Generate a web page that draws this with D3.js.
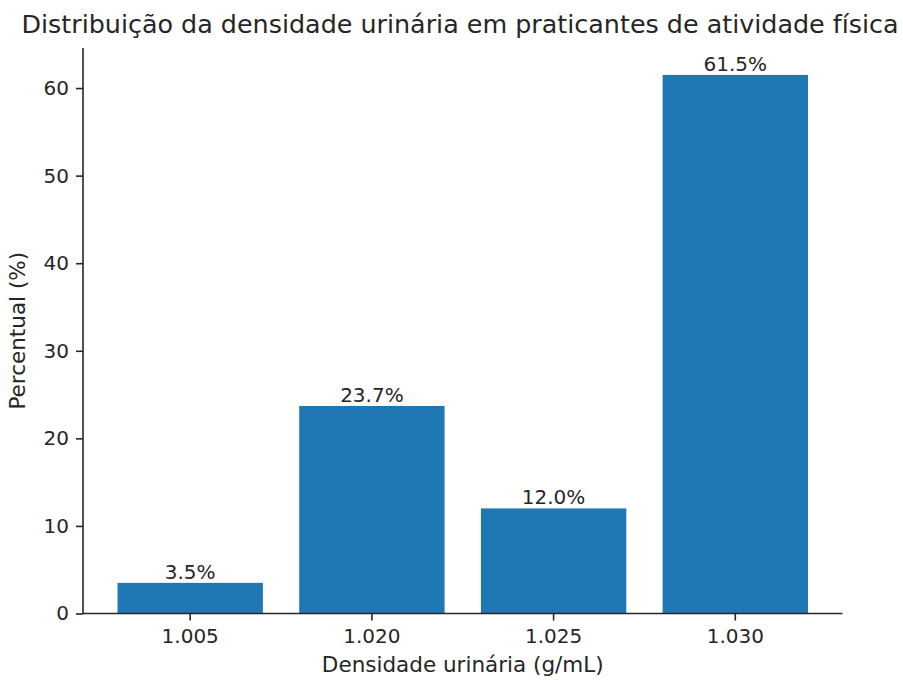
<!DOCTYPE html>
<html>
<head>
<meta charset="utf-8">
<script src="https://cdn.jsdelivr.net/npm/d3@7"></script>
<style>
	body { margin: 0; background: #fff; }
	text { font-family: "DejaVu Sans", sans-serif; fill: #262626; }
	.axis path, .axis line { stroke: #262626; stroke-width: 1.6; }
</style>
</head>
<body>
<svg id="chart" width="903" height="680"></svg>
<script>
// data
var categories = ['1.005', '1.020', '1.025', '1.030'];
var percents = [3.5, 23.7, 12.0, 61.5];
var yTicks = [0, 10, 20, 30, 40, 50, 60];

var svg = d3.select('#chart'),
	plotLeft = 83, plotRight = 842.5, plotTop = 48, plotBottom = 613.5;

var x = d3.scaleBand()
	.domain(categories)
	.range([plotLeft, plotRight])
	.paddingInner(0.2)
	.paddingOuter(0.19);

var y = d3.scaleLinear()
	.domain([0, d3.max(percents) * 1.05])
	.range([plotBottom, plotTop]);

// bars
svg.append('g').selectAll('rect')
	.data(percents)
	.enter()
	.append('rect')
	.attr('x', function (d, i) { return x(categories[i]); })
	.attr('y', function (d) { return y(d); })
	.attr('width', x.bandwidth())
	.attr('height', function (d) { return plotBottom - y(d); })
	.attr('fill', '#1f77b4')
;

// value labels
svg.append('g').selectAll('text')
	.data(percents)
	.enter()
	.append('text')
	.attr('x', function (d, i) { return x(categories[i]) + x.bandwidth() / 2; })
	.attr('y', function (d) { return y(d) - 4; })
	.attr('text-anchor', 'middle')
	.style('font-size', '20px')
	.text(function (d) { return d.toFixed(1) + '%'; })
;

// axes
var xAxis = svg.append('g')
	.attr('class', 'axis')
	.attr('transform', 'translate(0,' + plotBottom + ')')
	.call(d3.axisBottom(x).tickSizeOuter(0).tickSize(7).tickPadding(7));
xAxis.select('.domain').attr('d', 'M' + plotLeft + ',0H' + plotRight);
xAxis.selectAll('text').style('font-size', '20px').attr('dy', '0.78em');

var yAxis = svg.append('g')
	.attr('class', 'axis')
	.attr('transform', 'translate(' + plotLeft + ',0)')
	.call(d3.axisLeft(y).tickValues(yTicks).tickSizeOuter(0).tickSize(7).tickPadding(7));
yAxis.select('.domain').attr('d', 'M0,' + plotTop + 'V' + plotBottom);
yAxis.selectAll('text').style('font-size', '20px');

// titles
svg.append('text')
	.attr('x', 460)
	.attr('y', 33)
	.attr('text-anchor', 'middle')
	.style('font-size', '25.4px')
	.text('Distribuição da densidade urinária em praticantes de atividade física');

svg.append('text')
	.attr('x', (plotLeft + plotRight) / 2)
	.attr('y', 672)
	.attr('text-anchor', 'middle')
	.style('font-size', '21.5px')
	.text('Densidade urinária (g/mL)');

svg.append('text')
	.attr('transform', 'translate(25,' + (plotTop + plotBottom) / 2 + ') rotate(-90)')
	.attr('text-anchor', 'middle')
	.style('font-size', '21.5px')
	.text('Percentual (%)');
</script>
</body>
</html>
